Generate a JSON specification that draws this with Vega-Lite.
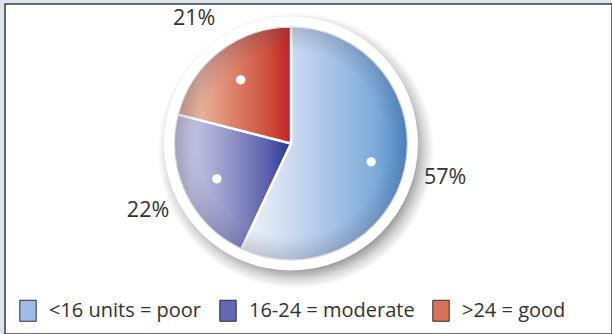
{
  "$schema": "https://vega.github.io/schema/vega-lite/v6.json",
  "width": 607,
  "height": 330,
  "autosize": {"type": "none"},
  "padding": {"left": 5, "top": 4, "right": 0, "bottom": 0},
  "background": "#dce3ec",
  "view": {"fill": "white", "stroke": "#3d3d3d", "strokeWidth": 1.5},
  "config": {
    "font": "Open Sans"
  },
  "data": {
    "values": [
      {"group": "<16 units = poor", "share": 0.57},
      {"group": "16-24 = moderate", "share": 0.22},
      {"group": ">24 = good", "share": 0.21}
    ]
  },
  "layer": [
    {
      "transform": [{"aggregate": [{"op": "sum", "field": "share", "as": "total"}]}],
      "mark": {
        "type": "arc",
        "outerRadius": 138,
        "xOffset": -12.5,
        "yOffset": -18.5,
        "fill": {
          "gradient": "radial",
          "x1": 0.5, "y1": 0.5, "r1": 0,
          "x2": 0.5, "y2": 0.5, "r2": 0.5,
          "stops": [
            {"offset": 0, "color": "rgba(0,0,0,0.42)"},
            {"offset": 0.85, "color": "rgba(0,0,0,0.42)"},
            {"offset": 0.93, "color": "rgba(0,0,0,0.16)"},
            {"offset": 1, "color": "rgba(0,0,0,0)"}
          ]
        }
      },
      "encoding": {"theta": {"field": "total", "type": "quantitative"}}
    },
    {
      "transform": [{"aggregate": [{"op": "sum", "field": "share", "as": "total"}]}],
      "mark": {"type": "arc", "outerRadius": 127, "xOffset": -17.5, "yOffset": -25.5, "fill": "white"},
      "encoding": {"theta": {"field": "total", "type": "quantitative"}}
    },
    {
      "mark": {"type": "arc", "outerRadius": 116, "xOffset": -17.5, "yOffset": -25.5},
      "encoding": {
        "theta": {"field": "share", "type": "quantitative", "stack": true},
        "order": {"field": "share", "sort": "descending"},
        "color": {
          "field": "group",
          "type": "nominal",
          "sort": ["<16 units = poor", "16-24 = moderate", ">24 = good"],
          "scale": {
            "domain": ["<16 units = poor", "16-24 = moderate", ">24 = good"],
            "range": ["#9dbde5", "#6268b4", "#d8735a"]
          },
          "legend": {
            "title": null,
            "orient": "none",
            "legendX": 12,
            "legendY": 295.5,
            "direction": "horizontal",
            "padding": 0,
            "symbolType": "M-0.78,-1H0.78V1H-0.78Z",
            "symbolSize": 441,
            "symbolStrokeColor": "#2e2e2e",
            "symbolStrokeWidth": 1,
            "symbolOpacity": 1,
            "labelFont": "Open Sans",
            "labelFontSize": 20,
            "labelColor": "#333333",
            "labelOffset": 10,
            "labelLimit": 300,
            "columnPadding": 15
          }
        }
      }
    },
    {
      "mark": {
        "type": "arc",
        "outerRadius": 117,
        "xOffset": -17.5,
        "yOffset": -25.5,
        "stroke": "white",
        "strokeWidth": 2.5
      },
      "encoding": {
        "theta": {"field": "share", "type": "quantitative", "stack": true},
        "order": {"field": "share", "sort": "descending"},
        "fill": {
          "condition": [
            {
              "test": "datum.group === '<16 units = poor'",
              "value": {
                "gradient": "linear", "x1": 0, "y1": 0, "x2": 1, "y2": 0,
                "stops": [
                  {"offset": 0, "color": "#f2f5fa"},
                  {"offset": 0.25, "color": "#d3e0f1"},
                  {"offset": 0.55, "color": "#a6c2e6"},
                  {"offset": 0.8, "color": "#7eaad9"},
                  {"offset": 1, "color": "#4f90cf"}
                ]
              }
            },
            {
              "test": "datum.group === '16-24 = moderate'",
              "value": {
                "gradient": "linear", "x1": 0, "y1": 0, "x2": 1, "y2": 0,
                "stops": [
                  {"offset": 0, "color": "#bdbdd8"},
                  {"offset": 0.15, "color": "#c4c5e1"},
                  {"offset": 0.5, "color": "#8f92c6"},
                  {"offset": 0.8, "color": "#5a60ad"},
                  {"offset": 1, "color": "#25368f"}
                ]
              }
            }
          ],
          "value": {
            "gradient": "linear", "x1": 0, "y1": 0, "x2": 1, "y2": 0,
            "stops": [
              {"offset": 0, "color": "#dca591"},
              {"offset": 0.2, "color": "#e7b19b"},
              {"offset": 0.5, "color": "#dc8068"},
              {"offset": 0.8, "color": "#cc503e"},
              {"offset": 1, "color": "#bf2127"}
            ]
          }
        }
      }
    },
    {
      "transform": [{"aggregate": [{"op": "sum", "field": "share", "as": "total"}]}],
      "mark": {
        "type": "arc",
        "outerRadius": 117,
        "xOffset": -17.5,
        "yOffset": -25.5,
        "fill": {
          "gradient": "radial",
          "x1": 0.5, "y1": 0.5, "r1": 0,
          "x2": 0.5, "y2": 0.5, "r2": 0.5,
          "stops": [
            {"offset": 0, "color": "rgba(60,60,90,0)"},
            {"offset": 0.8, "color": "rgba(60,60,90,0)"},
            {"offset": 1, "color": "rgba(60,60,90,0.22)"}
          ]
        }
      },
      "encoding": {"theta": {"field": "total", "type": "quantitative"}}
    },
    {
      "mark": {
        "type": "text",
        "text": "●",
        "radius": 82,
        "xOffset": -17.5,
        "yOffset": -25.5,
        "font": "DejaVu Sans",
        "fontSize": 12,
        "fill": "white",
        "align": "center",
        "baseline": "middle"
      },
      "encoding": {
        "theta": {"field": "share", "type": "quantitative", "stack": true},
        "order": {"field": "share", "sort": "descending"}
      }
    },
    {
      "mark": {
        "type": "text",
        "radius": 158,
        "xOffset": -17.5,
        "yOffset": -25.5,
        "font": "Open Sans",
        "fontSize": 21.5,
        "fill": "#333333",
        "align": "center",
        "baseline": "middle"
      },
      "encoding": {
        "theta": {"field": "share", "type": "quantitative", "stack": true},
        "order": {"field": "share", "sort": "descending"},
        "text": {"field": "share", "type": "quantitative", "format": ".0%"}
      }
    }
  ]
}
